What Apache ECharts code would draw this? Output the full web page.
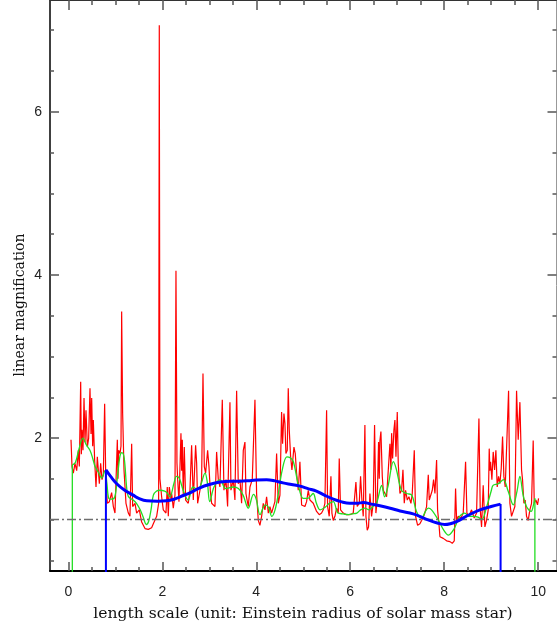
<!DOCTYPE html>
<html>
<head>
<meta charset="utf-8">
<script src="https://cdn.jsdelivr.net/npm/echarts@6/dist/echarts.min.js"></script>
<style>
  html, body { margin: 0; padding: 0; background: #fff; }
  #chart { width: 557px; height: 624px; }
</style>
</head>
<body>
<div id="chart"></div>
<script>
// Axis extents and tick positions
const xRange = [-0.39, 10.39];
const yRange = [0.37, 7.37];
const xMajorTicks = [0, 2, 4, 6, 8, 10];
const xMinorTicks = [0.5, 1, 1.5, 2.5, 3, 3.5, 4.5, 5, 5.5, 6.5, 7, 7.5, 8.5, 9, 9.5];
const yMajorTicks = [2, 4, 6];
const yMinorTicks = [0.5, 1, 1.5, 2.5, 3, 3.5, 4.5, 5, 5.5, 6.5, 7];
const referenceLevel = 1;

// Point-source magnification along the track (x, magnification)
const pointSource = [
  [0.057,1.98],[0.078,1.65],[0.107,1.57],[0.142,1.69],[0.178,1.60],[0.213,1.85],[0.234,1.65],[0.263,2.69],[0.277,1.80],[0.291,2.10],
  [0.312,1.85],[0.334,2.49],[0.355,1.95],[0.376,2.34],[0.405,1.89],[0.433,2.00],[0.461,2.61],[0.483,2.05],[0.497,2.49],[0.518,1.90],
  [0.532,2.22],[0.560,1.73],[0.589,1.40],[0.617,1.77],[0.660,1.44],[0.688,1.69],[0.717,1.49],[0.745,1.55],[0.773,2.42],[0.795,1.57],
  [0.830,1.20],[0.873,1.22],[0.922,1.33],[0.958,1.16],[0.993,1.08],[1.043,1.98],[1.057,1.50],[1.071,1.85],[1.100,1.81],[1.121,1.90],
  [1.135,3.55],[1.156,2.30],[1.185,1.61],[1.227,1.20],[1.277,1.08],[1.312,1.04],[1.348,1.93],[1.369,1.16],[1.419,1.20],[1.454,1.08],
  [1.511,1.12],[1.561,0.97],[1.632,0.89],[1.702,0.88],[1.773,0.90],[1.809,0.95],[1.880,1.04],[1.922,1.20],[1.936,7.06],[1.950,1.50],
  [1.986,1.28],[2.021,1.12],[2.078,1.08],[2.106,1.40],[2.128,1.04],[2.149,1.40],[2.185,1.25],[2.199,1.32],[2.234,1.14],[2.270,1.30],
  [2.291,4.05],[2.312,1.70],[2.327,1.49],[2.355,1.22],[2.397,2.06],[2.412,1.60],[2.426,1.98],[2.447,1.28],[2.468,1.89],[2.497,1.24],
  [2.553,1.20],[2.589,1.36],[2.624,1.91],[2.660,1.24],[2.709,1.91],[2.731,1.69],[2.752,1.20],[2.802,1.36],[2.837,1.49],[2.866,2.79],
  [2.894,1.65],[2.922,1.57],[2.965,1.85],[2.993,1.65],[3.021,1.36],[3.050,1.20],[3.085,1.22],[3.121,1.16],[3.156,1.83],[3.192,1.49],
  [3.227,1.40],[3.277,2.47],[3.312,1.36],[3.355,1.49],[3.390,1.16],[3.440,2.44],[3.461,1.36],[3.511,1.49],[3.546,1.24],[3.582,2.58],
  [3.617,1.44],[3.653,1.49],[3.688,1.20],[3.724,1.85],[3.759,1.95],[3.780,1.32],[3.830,1.16],[3.866,1.40],[3.915,1.49],[3.972,2.47],
  [4.007,1.32],[4.043,0.99],[4.078,0.93],[4.114,1.04],[4.149,1.20],[4.185,1.12],[4.220,1.28],[4.256,1.08],[4.291,1.16],[4.326,1.08],
  [4.362,1.08],[4.397,1.22],[4.433,1.81],[4.468,1.20],[4.504,1.30],[4.539,2.32],[4.560,1.93],[4.589,2.30],[4.610,2.18],[4.631,1.81],
  [4.660,1.85],[4.681,2.61],[4.702,2.10],[4.731,1.77],[4.759,1.61],[4.802,1.89],[4.830,1.81],[4.858,1.57],[4.894,1.36],[4.929,1.71],
  [4.965,1.18],[5.000,1.20],[5.036,1.16],[5.071,1.22],[5.107,1.36],[5.142,1.24],[5.213,1.20],[5.284,1.10],[5.341,1.06],[5.390,1.08],
  [5.426,1.12],[5.461,1.20],[5.497,2.34],[5.518,1.16],[5.553,1.04],[5.589,1.53],[5.610,1.08],[5.638,0.99],[5.674,1.04],[5.709,1.14],
  [5.745,1.08],[5.766,1.75],[5.794,1.12],[5.851,1.08],[5.922,1.06],[5.993,1.06],[6.064,1.08],[6.121,1.46],[6.149,1.16],[6.192,1.20],
  [6.220,1.53],[6.248,1.24],[6.277,1.04],[6.312,2.16],[6.334,1.04],[6.362,0.87],[6.390,0.91],[6.419,1.32],[6.454,1.04],[6.490,1.20],
  [6.518,2.16],[6.546,1.08],[6.575,1.24],[6.603,1.95],[6.618,1.50],[6.632,1.97],[6.653,2.08],[6.682,1.53],[6.703,1.36],[6.739,1.32],
  [6.774,1.28],[6.810,1.30],[6.845,1.93],[6.866,1.61],[6.881,2.06],[6.902,1.75],[6.930,2.10],[6.951,2.22],[6.973,1.77],[7.001,2.32],
  [7.022,1.69],[7.058,1.32],[7.093,1.36],[7.122,1.61],[7.150,1.20],[7.178,1.36],[7.214,1.24],[7.249,1.28],[7.292,1.20],[7.320,1.32],
  [7.363,1.85],[7.391,1.04],[7.434,0.93],[7.483,0.95],[7.519,0.99],[7.576,1.06],[7.625,1.16],[7.661,1.55],[7.682,1.24],[7.717,1.22],
  [7.746,1.36],[7.774,1.49],[7.803,1.32],[7.838,1.73],[7.859,1.12],[7.888,0.95],[7.909,0.79],[7.980,0.77],[8.051,0.74],[8.122,0.73],
  [8.171,0.71],[8.214,0.74],[8.235,0.76],[8.242,1.38],[8.264,0.99],[8.299,1.04],[8.356,1.02],[8.405,1.08],[8.455,1.71],[8.483,1.08],
  [8.526,1.04],[8.582,1.12],[8.639,1.02],[8.689,1.08],[8.739,2.24],[8.767,1.12],[8.795,0.91],[8.830,1.42],[8.866,0.91],[8.901,0.99],
  [8.937,1.12],[8.958,1.87],[8.972,1.60],[8.987,1.71],[9.015,1.49],[9.043,1.83],[9.072,1.61],[9.100,1.85],[9.128,1.40],[9.157,1.53],
  [9.185,1.44],[9.214,1.63],[9.242,2.02],[9.270,1.53],[9.299,1.40],[9.327,1.42],[9.370,2.58],[9.398,1.20],[9.433,1.04],[9.469,1.04],
  [9.504,1.16],[9.540,2.58],[9.575,1.98],[9.611,2.44],[9.646,1.61],[9.667,1.49],[9.696,1.20],[9.724,1.24],[9.752,1.04],[9.788,0.99],
  [9.823,1.12],[9.859,1.20],[9.894,1.97],[9.916,1.20],[9.951,1.24],[9.986,1.18],[10.008,1.26]
];

// Small-source (smoothed) magnification
const smallSource = [
  [0.085,1.67],[0.15,1.70],[0.22,1.85],[0.31,2.00],[0.38,1.92],[0.46,1.85],[0.52,1.75],[0.57,1.65],[0.64,1.58],
  [0.71,1.51],[0.78,1.60],[0.82,1.45],[0.86,1.26],[0.92,1.25],[0.99,1.28],[1.05,1.55],[1.10,1.78],[1.14,1.82],[1.19,1.75],
  [1.24,1.40],[1.28,1.28],[1.38,1.24],[1.45,1.20],[1.53,1.12],[1.60,1.02],[1.66,0.94],[1.71,0.98],[1.76,1.12],[1.81,1.30],
  [1.88,1.35],[1.95,1.36],[2.05,1.35],[2.10,1.33],[2.16,1.28],[2.25,1.45],[2.30,1.53],[2.36,1.51],[2.45,1.35],[2.55,1.24],
  [2.65,1.40],[2.72,1.38],[2.80,1.40],[2.91,1.57],[2.96,1.45],[3.01,1.22],[3.10,1.40],[3.23,1.49],[3.35,1.38],[3.51,1.40],
  [3.62,1.38],[3.72,1.30],[3.83,1.14],[3.94,1.31],[4.00,1.25],[4.08,1.06],[4.19,1.18],[4.26,1.15],[4.33,1.04],[4.40,1.12],
  [4.47,1.32],[4.55,1.60],[4.65,1.77],[4.72,1.76],[4.79,1.71],[4.89,1.44],[5.00,1.26],[5.10,1.26],[5.21,1.32],[5.28,1.20],
  [5.36,1.12],[5.46,1.15],[5.56,1.20],[5.64,1.22],[5.74,1.08],[5.85,1.07],[5.96,1.06],[6.05,1.07],[6.14,1.08],[6.22,1.12],
  [6.31,1.14],[6.40,1.12],[6.48,1.16],[6.56,1.20],[6.67,1.42],[6.73,1.28],[6.80,1.40],[6.92,1.71],[6.98,1.62],[7.09,1.36],
  [7.20,1.32],[7.31,1.30],[7.41,1.10],[7.52,1.02],[7.60,1.10],[7.66,1.14],[7.73,1.12],[7.87,1.00],[7.98,0.88],[8.09,0.81],
  [8.18,0.86],[8.23,0.91],[8.33,1.04],[8.44,1.08],[8.52,1.04],[8.62,1.04],[8.72,1.03],[8.80,1.00],[8.90,1.15],[9.00,1.35],
  [9.04,1.42],[9.15,1.44],[9.26,1.49],[9.36,1.35],[9.47,1.18],[9.55,1.35],[9.61,1.53],[9.68,1.30],[9.75,1.16],[9.85,1.10],
  [9.90,1.18],[9.93,1.26]
];

// Large-source magnification
const largeSource = [
  [0.80,1.61],[0.90,1.53],[1.03,1.44],[1.20,1.36],[1.38,1.30],[1.50,1.26],[1.67,1.23],[1.90,1.225],[2.09,1.23],
  [2.25,1.25],[2.38,1.28],[2.60,1.33],[2.80,1.39],[3.00,1.43],[3.23,1.46],[3.45,1.47],[3.65,1.47],[3.90,1.48],[4.22,1.49],
  [4.40,1.475],[4.57,1.45],[4.75,1.43],[4.93,1.41],[5.10,1.38],[5.28,1.35],[5.45,1.30],[5.64,1.25],[5.80,1.22],[5.99,1.20],
  [6.15,1.20],[6.28,1.21],[6.45,1.19],[6.63,1.17],[6.85,1.14],[7.06,1.105],[7.34,1.07],[7.60,1.01],[7.87,0.955],[8.01,0.94],
  [8.13,0.95],[8.26,0.975],[8.50,1.05],[8.76,1.12],[9.00,1.16],[9.20,1.19]
];

// Vertical edges: each curve drops from its end value down through the bottom axis
function edgeDrops(curve) {
  const below = yRange[0] - 0.1;
  const a = curve[0], b = curve[curve.length - 1];
  return [[a[0], below], [a[0], a[1]], '-', [b[0], b[1]], [b[0], below]];
}

const chart = echarts.init(document.getElementById('chart'), null, { renderer: 'canvas' });

const tickColor = '#555';
const labelFont = { fontFamily: 'Liberation Sans, Arial, sans-serif', fontSize: 14, color: '#222' };

function xAxisDef(position, ticks, len, line, labels) {
  return {
    type: 'value', position: position, offset: 0, min: xRange[0], max: xRange[1],
    axisLine: { show: line, onZero: false, lineStyle: { color: position === 'bottom' ? '#000' : '#333', width: position === 'bottom' ? 2 : 1 } },
    axisTick: { show: true, inside: true, length: len, customValues: ticks, lineStyle: { color: tickColor, width: 1.5 } },
    axisLabel: labels ? Object.assign({ show: true, margin: 14, customValues: ticks }, labelFont) : { show: false },
    splitLine: { show: false }
  };
}
function yAxisDef(position, ticks, len, line, labels) {
  return {
    type: 'value', position: position, offset: 0, min: yRange[0], max: yRange[1],
    axisLine: { show: line, onZero: false, lineStyle: { color: position === 'left' ? '#000' : '#999', width: position === 'left' ? 1.5 : 1 } },
    axisTick: { show: true, inside: true, length: len, customValues: ticks, lineStyle: { color: tickColor, width: 1.5 } },
    axisLabel: labels ? Object.assign({ show: true, margin: 8, customValues: ticks }, labelFont) : { show: false },
    splitLine: { show: false }
  };
}

const lineBase = { type: 'line', showSymbol: false, symbol: 'none', clip: true, xAxisIndex: 0, yAxisIndex: 0, silent: true, animation: false, connectNulls: false };
const greenStyle = { color: '#22dd22', width: 1.3 };
const blueStyle = { color: '#0000ff', width: 3 };

chart.setOption({
  animation: false,
  backgroundColor: '#fff',
  grid: { left: 50, right: 0.5, top: 0, bottom: 53, containLabel: false },
  xAxis: [
    xAxisDef('bottom', xMajorTicks, 9, true, true),
    xAxisDef('bottom', xMinorTicks, 4, false, false),
    xAxisDef('top', xMajorTicks, 10, true, false),
    xAxisDef('top', xMinorTicks, 5, false, false)
  ],
  yAxis: [
    yAxisDef('left', yMajorTicks, 9, true, true),
    yAxisDef('left', yMinorTicks, 4, false, false),
    yAxisDef('right', yMajorTicks, 9, true, false),
    yAxisDef('right', yMinorTicks, 4, false, false)
  ],
  series: [
    Object.assign({}, lineBase, {
      name: 'point source', data: pointSource, z: 2,
      lineStyle: { color: '#ff0000', width: 1.2 }
    }),
    Object.assign({}, lineBase, {
      name: 'small source', data: smallSource, z: 3, smooth: 0.35,
      lineStyle: greenStyle
    }),
    Object.assign({}, lineBase, {
      name: 'small source edges', data: edgeDrops(smallSource), z: 3,
      lineStyle: greenStyle
    }),
    Object.assign({}, lineBase, {
      name: 'unit level', data: [[xRange[0], referenceLevel], [xRange[1], referenceLevel]], z: 4,
      lineStyle: { color: '#6e6e6e', width: 1.5, type: [9, 3, 2, 3] }
    }),
    Object.assign({}, lineBase, {
      name: 'large source', data: largeSource, z: 5, smooth: 0.4,
      lineStyle: blueStyle
    }),
    Object.assign({}, lineBase, {
      name: 'large source edges', data: edgeDrops(largeSource), z: 5,
      lineStyle: { color: '#0000ff', width: 2 }
    })
  ],
  graphic: [
    {
      type: 'text', x: 303, y: 614,
      style: { text: 'length scale (unit: Einstein radius of solar mass star)', font: '15.6px "DejaVu Serif", serif', fill: '#111', align: 'center', verticalAlign: 'middle' }
    },
    {
      type: 'text', x: 20, y: 305, rotation: Math.PI / 2,
      style: { text: 'linear magnification', font: '14px "DejaVu Serif", serif', fill: '#111', align: 'center', verticalAlign: 'middle' }
    }
  ]
});
</script>
</body>
</html>
